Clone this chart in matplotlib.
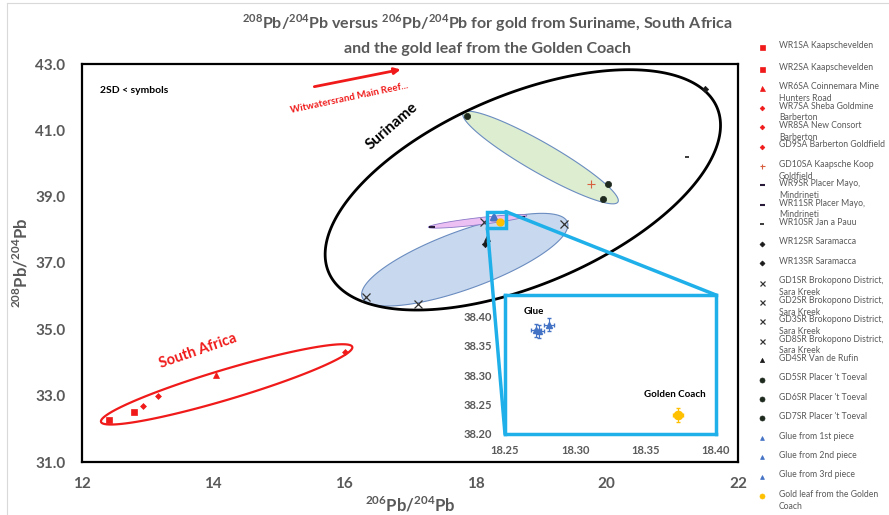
import numpy as np
import matplotlib
matplotlib.use("Agg")
import matplotlib.pyplot as plt
from matplotlib.patches import Polygon, Rectangle, ConnectionPatch
from matplotlib.lines import Line2D

plt.rcParams['font.family'] = ['Lato', 'DejaVu Sans']
plt.rcParams['mathtext.fontset'] = 'custom'
plt.rcParams['mathtext.rm'] = 'Lato'
plt.rcParams['mathtext.bf'] = 'Lato:bold'

GREY = '#595959'
CYAN = '#1fb0ea'

# ---- data (206Pb/204Pb, 208Pb/204Pb) ----
sample_labels = [
    "WR1SA Kaapschevelden",
    "WR2SA Kaapschevelden",
    "WR6SA Coinnemara Mine\nHunters Road",
    "WR7SA Sheba Goldmine\nBarberton",
    "WR8SA New Consort\nBarberton",
    "GD9SA Barberton Goldfield",
    "GD10SA Kaapsche Koop\nGoldfield",
    "WR9SR Placer Mayo,\nMindrineti",
    "WR11SR Placer Mayo,\nMindrineti",
    "WR10SR Jan a Pauu",
    "WR12SR Saramacca",
    "WR13SR Saramacca",
    "GD1SR Brokopono District,\nSara Kreek",
    "GD2SR Brokopono District,\nSara Kreek",
    "GD3SR Brokopono District,\nSara Kreek",
    "GD8SR Brokopono District,\nSara Kreek",
    "GD4SR Van de Rufin",
    "GD5SR Placer 't Toeval",
    "GD6SR Placer 't Toeval",
    "GD7SR Placer 't Toeval",
]
pb206 = [12.41, 12.79, 14.04, 12.93, 13.16, 16.01, 19.76, 17.33, 18.70, 21.23,
         21.50, 18.14, 16.33, 17.12, 19.35, 18.13, 18.17, 17.87, 20.02, 19.94]
pb208 = [32.27, 32.51, 33.62, 32.69, 32.99, 34.32, 39.38, 38.09, 38.40, 40.19,
         42.25, 37.56, 35.98, 35.76, 38.18, 38.23, 37.75, 41.43, 39.38, 38.93]

glue_labels = ["Glue from 1st piece", "Glue from 2nd piece", "Glue from 3rd piece"]
glue_206 = [18.272, 18.274, 18.281]
glue_208 = [38.376, 38.374, 38.385]
glue_err206 = [0.0035, 0.0035, 0.0035]
glue_err208 = [0.011, 0.011, 0.011]

gold_label = "Gold leaf from the Golden\nCoach"
gold_206 = [18.373]
gold_208 = [38.232]
gold_err206 = [0.0035]
gold_err208 = [0.012]

# marker styles: (marker, colour, size, edge width)
RED = '#f01a1a'
DARK = '#1a1a1a'
styles = (
    [('s', RED, 5, 0.5)] * 2 + [('^', RED, 5, 0.5)] + [('D', RED, 3, 0.5)] * 3
    + [('+', '#d9603e', 5.5, 0.8)]
    + [('_', '#2a1a3a', 5, 1.5)] * 2 + [('_', DARK, 3.5, 1.2)]
    + [('D', DARK, 3.2, 0.5)] * 2
    + [('x', '#333333', 5.5, 0.9)] * 4
    + [('^', DARK, 3.8, 0.5)]
    + [('o', '#1e2a1e', 4.5, 0.5)] * 3
)
GLUE_C = '#4472c4'
GOLD_C = '#ffc000'

fig = plt.figure(figsize=(8.89, 5.15), dpi=100)

# overlay for legend (pixel coordinates)
lax = fig.add_axes([0, 0, 1, 1])
lax.set_xlim(0, 889)
lax.set_ylim(515, 0)
lax.set_axis_off()

ax = fig.add_axes([82 / 889, 53 / 515, 656 / 889, 398 / 515])
ax.set_xlim(12, 22)
ax.set_ylim(31, 43)
ax.set_xticks(np.arange(12, 23, 2))
ax.set_yticks(np.arange(31, 44, 2))
ax.set_yticklabels([f"{v:.1f}" for v in np.arange(31, 44, 2)])
ax.tick_params(length=0, labelsize=11, labelcolor=GREY)
ax.tick_params(axis='x', pad=11)
ax.tick_params(axis='y', pad=12)
for lbl in ax.get_xticklabels() + ax.get_yticklabels():
    lbl.set_fontweight('bold')
for sp in ax.spines.values():
    sp.set_linewidth(1.6)
    sp.set_color('black')

ax.set_xlabel(r'$^{\mathbf{206}}$Pb/$^{\mathbf{204}}$Pb', fontsize=12,
              fontweight='bold', color=GREY, labelpad=3)
ax.set_ylabel(r'$^{\mathbf{208}}$Pb/$^{\mathbf{204}}$Pb', fontsize=12,
              fontweight='bold', color=GREY, labelpad=3)

fig.canvas.draw()


def ellipse_pts(tip1, tip2, half_px, n=240):
    T = ax.transData
    p1 = T.transform(tip1)
    p2 = T.transform(tip2)
    c = (p1 + p2) / 2
    d = (p2 - p1) / 2
    u = d / np.hypot(*d)
    v = np.array([-u[1], u[0]]) * half_px
    t = np.linspace(0, 2 * np.pi, n)
    pts = c + np.outer(np.cos(t), d) + np.outer(np.sin(t), v)
    return T.inverted().transform(pts)


# grouping ellipses (major-axis tips in data units, half width in px)
ax.add_patch(Polygon(ellipse_pts((16.27, 35.97), (19.40, 38.23), 29),
                     fc='#c8d8ee', ec='#6a8cc0', lw=0.8, zorder=1))
ax.add_patch(Polygon(ellipse_pts((17.81, 41.52), (20.17, 38.84), 15),
                     fc='#dcedd0', ec='#6a8cc0', lw=0.8, zorder=1))
ax.add_patch(Polygon(ellipse_pts((17.28, 38.08), (18.78, 38.43), 3.5),
                     fc='#ecc0f2', ec='#8a78c8', lw=0.6, zorder=2))
ax.add_patch(Polygon(ellipse_pts((15.76, 36.72), (21.68, 41.69), 95),
                     fc='none', ec='black', lw=2, zorder=3))
ax.add_patch(Polygon(ellipse_pts((12.29, 32.21), (16.12, 34.47), 15),
                     fc='none', ec=RED, lw=1.6, zorder=3))

for x, y, (m, c, s, w) in zip(pb206, pb208, styles):
    ax.plot(x, y, ls='none', marker=m, color=c, ms=s, mew=w, zorder=5)
ax.plot(glue_206, glue_208, ls='none', marker='^', color=GLUE_C, ms=4, zorder=5)
ax.plot(gold_206, gold_208, ls='none', marker='o', color=GOLD_C, ms=5, zorder=5)

# highlight box around glue / gold leaf
ax.add_patch(Rectangle((18.18, 38.05), 0.28, 0.50, fill=False, ec=CYAN,
                       lw=2.5, zorder=6))

# annotations
ax.text(12.27, 42.19, "2SD < symbols", fontsize=7.5, fontweight='bold',
        va='center', ha='left')
ax.annotate("", xy=(16.90, 42.85), xytext=(15.50, 42.30),
            arrowprops=dict(arrowstyle='-|>', color=RED, lw=2,
                            mutation_scale=9))
ax.text(16.07, 41.98, "Witwatersrand Main Reef...", fontsize=7,
        fontweight='bold', color=RED, rotation=12, ha='center', va='center')
ax.text(16.72, 41.14, "Suriname", fontsize=11, fontweight='bold',
        rotation=41, ha='center', va='center')
ax.text(13.77, 34.36, "South Africa", fontsize=10.5, fontweight='bold',
        color=RED, rotation=19, ha='center', va='center')

# inset
ax_in = fig.add_axes([505 / 889, 81 / 515, 211 / 889, 139 / 515])
ax_in.set_xlim(18.25, 18.40)
ax_in.set_ylim(38.20, 38.4356)
ax_in.set_xticks([18.25, 18.30, 18.35, 18.40])
ax_in.set_yticks([38.20, 38.25, 38.30, 38.35, 38.40])
ax_in.set_xticklabels(["18.25", "18.30", "18.35", "18.40"])
ax_in.set_yticklabels(["38.20", "38.25", "38.30", "38.35", "38.40"])
ax_in.tick_params(length=0, labelsize=8, labelcolor=GREY)
ax_in.tick_params(axis='x', pad=8)
ax_in.tick_params(axis='y', pad=9)
for lbl in ax_in.get_xticklabels() + ax_in.get_yticklabels():
    lbl.set_fontweight('bold')
for sp in ax_in.spines.values():
    sp.set_color(CYAN)
    sp.set_linewidth(2.5)
ax_in.errorbar(glue_206, glue_208, xerr=glue_err206, yerr=glue_err208,
               fmt='^', color=GLUE_C, ms=5, elinewidth=0.8, capsize=1.5)
ax_in.errorbar(gold_206, gold_208, xerr=gold_err206, yerr=gold_err208,
               fmt='o', color=GOLD_C, ms=6, elinewidth=0.8, capsize=1.5)
ax_in.text(18.2705, 38.408, "Glue", fontsize=7, fontweight='bold',
           ha='center', va='center')
ax_in.text(18.3705, 38.267, "Golden Coach", fontsize=7, fontweight='bold',
           ha='center', va='center')

for xyA, xyB in [((18.46, 38.55), (1, 1)), ((18.18, 38.05), (0, 0))]:
    con = ConnectionPatch(xyA=xyA, coordsA=ax.transData, xyB=xyB,
                          coordsB=ax_in.transAxes, color=CYAN, lw=2.5)
    fig.add_artist(con)

# title
fig.text(487 / 889, 1 - 23 / 515,
         r'$^{\mathbf{208}}$Pb/$^{\mathbf{204}}$Pb versus '
         r'$^{\mathbf{206}}$Pb/$^{\mathbf{204}}$Pb for gold from Suriname, South Africa',
         fontsize=11.5, fontweight='bold', color=GREY, ha='center', va='center')
fig.text(487 / 889, 1 - 49 / 515, "and the gold leaf from the Golden Coach",
         fontsize=11.5, fontweight='bold', color=GREY, ha='center', va='center')

# legend (hand placed, Excel style)
legend_labels = sample_labels + glue_labels + [gold_label]
legend_styles = (styles + [('^', GLUE_C, 3.5, 0.5)] * 3
                 + [('o', GOLD_C, 4.5, 0.5)])
slots = [47] + [69 + 19.41 * k for k in range(23)]
for yy, text, (m, c, s, w) in zip(slots, legend_labels, legend_styles):
    lax.plot(762, yy, ls='none', marker=m, color=c, ms=min(s, 4.5) * 0.8,
             mew=w)
    lax.text(779, yy - 6.2, text, fontsize=6.2, color=GREY, ha='left',
             va='top', linespacing=1.4)

# faint chart border
fig.add_artist(Line2D([7 / 889, 1], [1 - 3 / 515, 1 - 3 / 515],
                      transform=fig.transFigure, color='#d9d9d9', lw=0.8))
fig.add_artist(Line2D([7 / 889, 7 / 889], [0, 1 - 3 / 515],
                      transform=fig.transFigure, color='#d9d9d9', lw=0.8))

fig.savefig("out.png", dpi=100)
